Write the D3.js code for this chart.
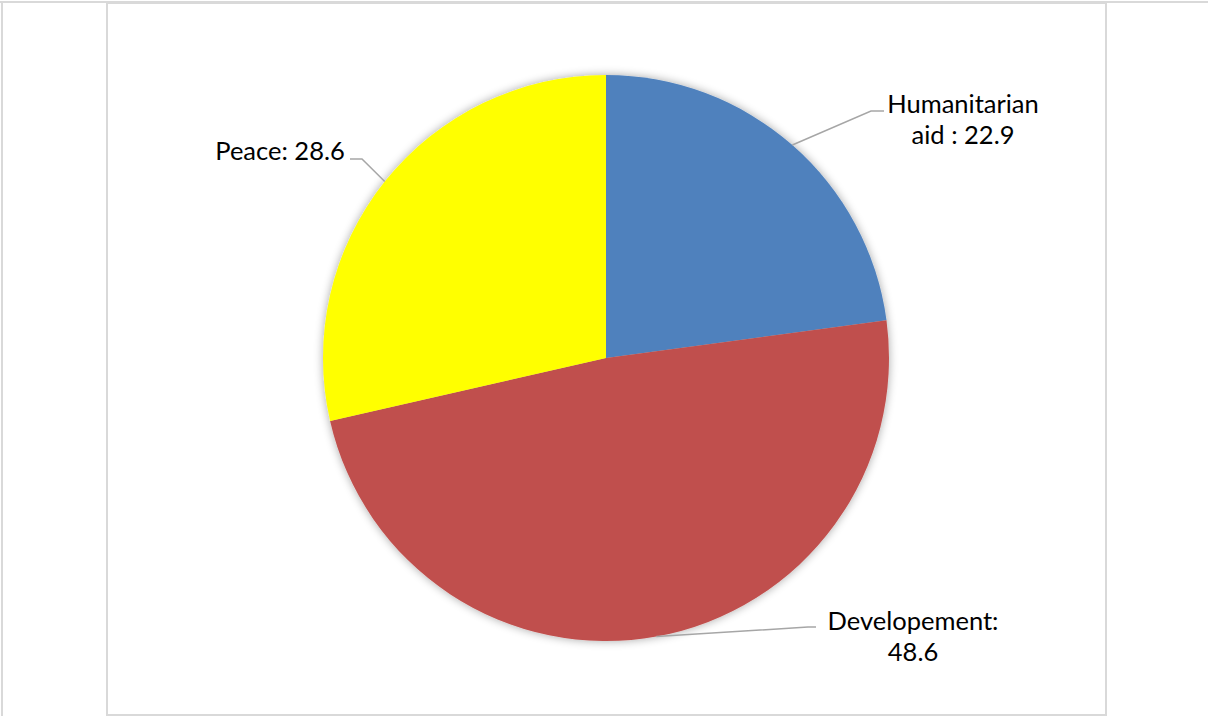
<!DOCTYPE html>
<html>
<head>
<meta charset="utf-8">
<script src="https://cdn.jsdelivr.net/npm/d3@7"></script>
<style>
  html, body { margin: 0; padding: 0; background: #fff; }
  svg { display: block; }
  text { font-family: Lato, "Open Sans", sans-serif; fill: #000; }
</style>
</head>
<body>
<svg id="chart" width="1208" height="716"></svg>
<script>
// Funding split by area
const categories = ["Humanitarian aid", "Developement", "Peace"];
const values = [22.9, 48.6, 28.6];
const labelLines = [["Humanitarian", "aid : 22.9"], ["Developement:", "48.6"], ["Peace: 28.6"]];
const colors = ["#4F81BD", "#C0504D", "#FFFF00"];

const W = 1208, H = 716;
const cx = 606, cy = 358, R = 283;

const svg = d3.select("#chart");

// Frame lines
const frame = svg.append("g").attr("fill", "none").attr("stroke", "#d9d9d9").attr("stroke-width", 2);
frame.append("line").attr("x1", 0).attr("x2", W).attr("y1", 2).attr("y2", 2);
frame.append("line").attr("x1", 2).attr("x2", 2).attr("y1", 2).attr("y2", H);
frame.append("rect").attr("x", 107).attr("y", 3).attr("width", 999).attr("height", 712);

// Soft shadow around the pie
const defs = svg.append("defs");
const f = defs.append("filter").attr("id", "shadow")
  .attr("x", "-10%").attr("y", "-10%").attr("width", "120%").attr("height", "120%");
f.append("feGaussianBlur").attr("in", "SourceAlpha").attr("stdDeviation", 5).attr("result", "b");
f.append("feOffset").attr("in", "b").attr("dx", 0).attr("dy", 0).attr("result", "o");
f.append("feComponentTransfer").attr("in", "o").attr("result", "s")
  .append("feFuncA").attr("type", "linear").attr("slope", 0.35);
const m = f.append("feMerge");
m.append("feMergeNode").attr("in", "s");
m.append("feMergeNode").attr("in", "SourceGraphic");

const data = categories.map((c, i) => ({ name: c, value: values[i], color: colors[i], lines: labelLines[i] }));
const pie = d3.pie().sort(null).value(d => d.value);
const arcs = pie(data);
const arc = d3.arc().innerRadius(0).outerRadius(R);

const g = svg.append("g").attr("transform", `translate(${cx},${cy})`);
g.append("g").attr("filter", "url(#shadow)")
  .selectAll("path").data(arcs).join("path")
  .attr("d", arc)
  .attr("fill", d => d.data.color);

// Label placement (text anchor point, leader bend points)
const labelLayout = [
  { x: 963, y: 113, bend: [871, 884], lineY: 111 },
  { x: 913, y: 630, bend: [808, 816], lineY: 627 },
  { x: 280, y: 160, bend: [362, 350], lineY: 159 }
];

const leaders = svg.append("g").attr("fill", "none").attr("stroke", "#A6A6A6").attr("stroke-width", 1.5);
arcs.forEach((a, i) => {
  const mid = (a.startAngle + a.endAngle) / 2;
  const sx = cx + R * Math.sin(mid), sy = cy - R * Math.cos(mid);
  const L = labelLayout[i];
  const pts = [[sx, sy]].concat(L.bend.map(x => [x, L.lineY]));
  leaders.append("path").attr("d", d3.line()(pts));
});

const labels = svg.append("g").attr("font-size", 25.5);
arcs.forEach((a, i) => {
  const L = labelLayout[i];
  const t = labels.append("text").attr("text-anchor", "middle");
  a.data.lines.forEach((ln, j) => {
    t.append("tspan").attr("x", L.x).attr("y", L.y + j * 31).text(ln);
  });
});
</script>
</body>
</html>
